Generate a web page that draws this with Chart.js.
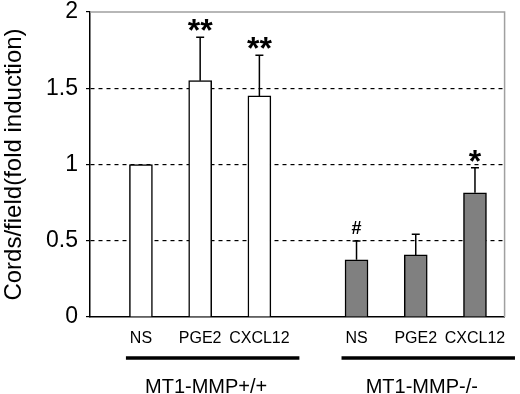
<!DOCTYPE html>
<html>
<head>
<meta charset="utf-8">
<script src="https://cdn.jsdelivr.net/npm/chart.js@4"></script>
<style>
  html, body { margin: 0; padding: 0; background: #fff; }
  #wrap { width: 520px; height: 394px; position: relative; }
</style>
</head>
<body>
<div id="wrap"><canvas id="cordsChart"></canvas></div>
<script>
// values
const conditions = ['NS', 'PGE2', 'CXCL12'];
const groups = ['MT1-MMP+/+', 'MT1-MMP-/-'];
const wtSlots = [0.86, 1.86, 2.86];
const koSlots = [4.5, 5.5, 6.5];
const wtValues = [1.0, 1.55, 1.45];
const wtErrors = [0, 0.285, 0.267];
const koValues = [0.375, 0.407, 0.815];
const koErrors = [0.124, 0.135, 0.164];
const wtMarks = ['', '**', '**'];
const koMarks = ['#', '', '*'];
const yTicks = [0, 0.5, 1, 1.5, 2];

const FONT = 'Liberation Sans, Arial, sans-serif';
const allSlots = wtSlots.concat(koSlots);
const allLabels = conditions.concat(conditions);

// error bars (upper only) and significance marks
const errorBars = {
    id: 'errorBars',
    afterDatasetsDraw(chart) {
        const ctx = chart.ctx;
        const y = chart.scales.y;
        const errs = [wtErrors, koErrors];
        const marks = [wtMarks, koMarks];
        chart.data.datasets.forEach((ds, d) => {
            chart.getDatasetMeta(d).data.forEach((bar, i) => {
                const top = y.getPixelForValue(ds.data[i].y + errs[d][i]);
                ctx.save();
                ctx.strokeStyle = '#000';
                ctx.lineWidth = 1.5;
                if (errs[d][i] > 0) {
                    ctx.beginPath();
                    ctx.moveTo(bar.x, bar.y);
                    ctx.lineTo(bar.x, top);
                    ctx.moveTo(bar.x - 4, top);
                    ctx.lineTo(bar.x + 4, top);
                    ctx.stroke();
                }
                const m = marks[d][i];
                if (m) {
                    ctx.fillStyle = '#000';
                    ctx.textAlign = 'center';
                    ctx.textBaseline = 'alphabetic';
                    if (m === '#') {
                        ctx.font = 'bold 18px ' + FONT;
                        ctx.fillText(m, bar.x, top - 7);
                    } else {
                        ctx.font = 'bold 32px ' + FONT;
                        ctx.fillText(m, bar.x, top + 4);
                    }
                }
                ctx.restore();
            });
        });
    }
};

// gray frame on top/right, group lines and group names
const frame = {
    id: 'frame',
    beforeDatasetsDraw(chart) {
        const {ctx, chartArea: a} = chart;
        ctx.save();
        ctx.strokeStyle = '#a0a0a0';
        ctx.lineWidth = 1.5;
        ctx.beginPath();
        ctx.moveTo(a.left, a.top);
        ctx.lineTo(a.right, a.top);
        ctx.lineTo(a.right, a.bottom);
        ctx.stroke();
        ctx.restore();
    },
    afterDraw(chart) {
        const ctx = chart.ctx;
        const x = chart.scales.x;
        [wtSlots, koSlots].forEach((slots, g) => {
            const x0 = x.getPixelForValue(slots[0]) - 15;
            const x1 = x.getPixelForValue(slots[slots.length - 1]) + 40;
            ctx.save();
            ctx.strokeStyle = '#000';
            ctx.lineWidth = 3.5;
            ctx.beginPath();
            ctx.moveTo(x0, 358);
            ctx.lineTo(x1, 358);
            ctx.stroke();
            ctx.fillStyle = '#000';
            ctx.font = '20px ' + FONT;
            ctx.textAlign = 'center';
            ctx.textBaseline = 'alphabetic';
            ctx.fillText(groups[g], x.getPixelForValue(slots[1]) + 6, 393);
            ctx.restore();
        });
    }
};

const chart = new Chart(document.getElementById('cordsChart'), {
    type: 'bar',
    data: {
        datasets: [{
            label: groups[0],
            data: wtSlots.map((s, i) => ({x: s, y: wtValues[i]})),
            backgroundColor: '#ffffff',
            borderColor: '#000',
            borderWidth: 1.5,
            borderSkipped: 'bottom'
        }, {
            label: groups[1],
            data: koSlots.map((s, i) => ({x: s, y: koValues[i]})),
            backgroundColor: '#808080',
            borderColor: '#000',
            borderWidth: 1.5,
            borderSkipped: 'bottom'
        }]
    },
    options: {
        responsive: true,
        maintainAspectRatio: false,
        animation: false,
        grouped: false,
        barThickness: 23,
        layout: { padding: { top: 12, right: 11, left: 0, bottom: 0 } },
        plugins: { legend: { display: false }, tooltip: { enabled: false } },
        scales: {
            x: {
                type: 'linear',
                min: 0,
                max: 7,
                offset: false,
                afterBuildTicks: (s) => { s.ticks = allSlots.map(v => ({value: v})); },
                afterFit: (s) => { s.height = 77; },
                ticks: {
                    callback: (v, i) => allLabels[i],
                    font: { family: FONT, size: 16, lineHeight: 1 },
                    color: '#000',
                    padding: 14,
                    maxRotation: 0,
                    autoSkip: false
                },
                grid: { display: false, drawTicks: false, offset: false },
                border: { display: true, color: '#000', width: 1.5 }
            },
            y: {
                min: 0,
                max: 2,
                afterBuildTicks: (s) => { s.ticks = yTicks.map(v => ({value: v})); },
                afterFit: (s) => { s.width = 90; s.paddingTop = 0; s.paddingBottom = 0; },
                ticks: {
                    callback: (v) => String(v),
                    font: { family: FONT, size: 23, lineHeight: 0.5 },
                    color: '#000',
                    padding: 8
                },
                grid: {
                    color: (c) => (c.tick && (c.tick.value === 0 || c.tick.value === 2)) ? 'rgba(0,0,0,0)' : '#000',
                    lineWidth: 1.2,
                    tickColor: '#000',
                    tickLength: 4
                },
                border: { display: true, color: '#000', width: 1.5, dash: [4, 4] },
                title: {
                    display: true,
                    text: 'Cords/field(fold induction)',
                    font: { family: FONT, size: 24, lineHeight: 1 },
                    color: '#000',
                    padding: { top: 2, bottom: 0 }
                }
            }
        }
    },
    plugins: [frame, errorBars]
});
</script>
</body>
</html>
